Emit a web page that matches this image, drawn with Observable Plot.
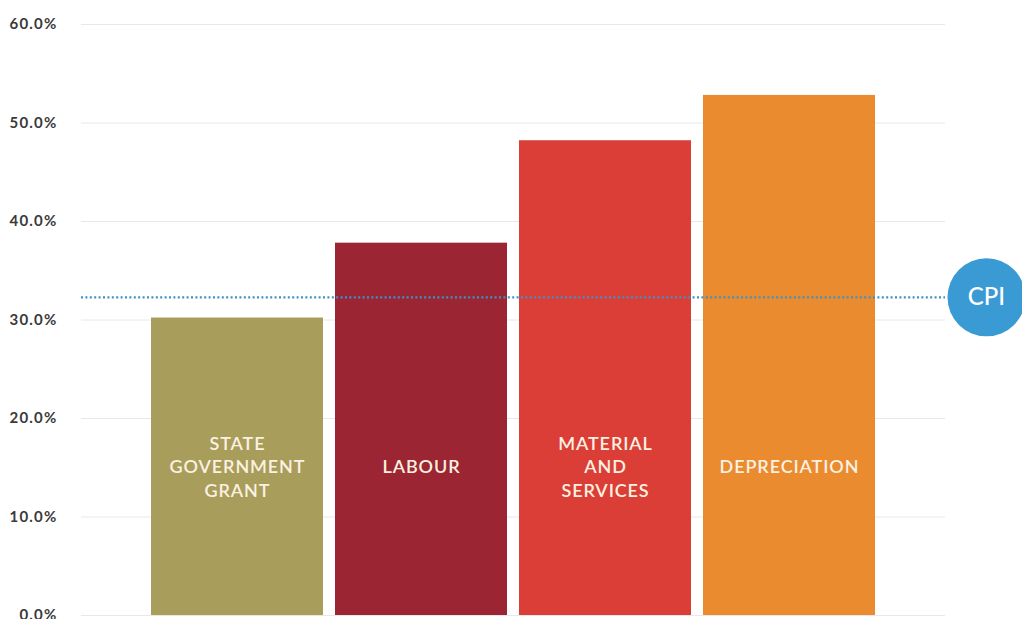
<!DOCTYPE html>
<html>
<head>
<meta charset="utf-8">
<script src="https://cdn.jsdelivr.net/npm/d3@7"></script>
<script src="https://cdn.jsdelivr.net/npm/@observablehq/plot@0.6"></script>
<style>
  html, body { margin: 0; padding: 0; background: #fff; }
  #chart svg { display: block; font-family: Lato, "Open Sans", sans-serif; }
  .barlabel text { letter-spacing: 0.9px; }
  .yaxis text { letter-spacing: 1.2px; }
</style>
</head>
<body>
<div id="chart"></div>
<script>
const categories = ["State Government Grant", "Labour", "Material and Services", "Depreciation"];
const barLabels = ["STATE\nGOVERNMENT\nGRANT", "LABOUR", "MATERIAL\nAND\nSERVICES", "DEPRECIATION"];
const values = [30.2, 37.8, 48.2, 52.8];
const barColors = ["#a89d5a", "#9b2533", "#da3e36", "#e98b2e"];
const cpiValue = [32.3];
const yTicks = [0, 10, 20, 30, 40, 50, 60];
const LABEL_Y = 15.2;

const data = categories.map((c, i) => ({cat: c, value: values[i], label: barLabels[i]}));

const chart = Plot.plot({
  width: 1022,
  height: 619,
  marginLeft: 81,
  marginRight: 77,
  marginTop: 24,
  marginBottom: 4,
  style: {overflow: "visible"},
  x: {domain: categories, paddingInner: 0.065, paddingOuter: 0.375, axis: null},
  y: {domain: [0, 60], axis: null},
  color: {domain: categories, range: barColors},
  marks: [
    Plot.ruleY(yTicks, {stroke: "#e8e8e8", strokeWidth: 1}),
    Plot.axisY({
      ticks: yTicks,
      tickSize: 0,
      tickPadding: 24,
      tickFormat: d => d.toFixed(1) + "%",
      fontSize: 15,
      fontWeight: "bold",
      fill: "#3a3a3a",
      label: null,
      className: "yaxis"
    }),
    Plot.barY(data, {x: "cat", y: "value", fill: "cat"}),
    Plot.text(data, {
      x: "cat",
      y: () => LABEL_Y,
      text: "label",
      fill: "#fbf1e1",
      fontSize: 18,
      fontWeight: 600,
      lineHeight: 1.3,
      className: "barlabel"
    }),
    Plot.ruleY(cpiValue, {stroke: "#3c92c9", strokeWidth: 2.2, strokeDasharray: "2,2.4"}),
    Plot.dot(cpiValue, {y: d => d, frameAnchor: "right", dx: 41, r: 39, fill: "#3a9ad4", stroke: "none"}),
    Plot.text(cpiValue, {y: d => d, frameAnchor: "right", dx: 41, textAnchor: "middle", text: () => "CPI", fill: "#ffffff", fontSize: 24, fontWeight: 500})
  ]
});
document.getElementById("chart").appendChild(chart);
</script>
</body>
</html>
